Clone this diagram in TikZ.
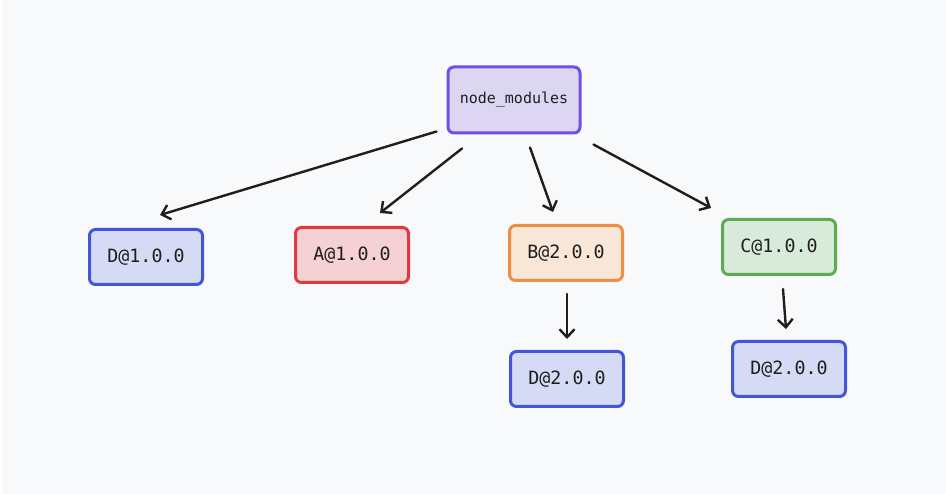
\documentclass[tikz,border=0pt]{standalone}
\usepackage{fontspec}
\setmonofont{DejaVu Sans Mono}
\usetikzlibrary{arrows.meta,calc}
\definecolor{bg}{HTML}{F8F9FA}
\definecolor{ink}{HTML}{1E1E1E}
\definecolor{vioF}{HTML}{DDD6F3}\definecolor{vioD}{HTML}{6E4FE8}
\definecolor{bluF}{HTML}{D5DBF4}\definecolor{bluD}{HTML}{4456D8}
\definecolor{redF}{HTML}{F5D0D4}\definecolor{redD}{HTML}{E0393E}
\definecolor{oraF}{HTML}{F8E6D6}\definecolor{oraD}{HTML}{EE8E45}
\definecolor{griF}{HTML}{D8EAD9}\definecolor{griD}{HTML}{5BAD50}
\tikzset{
  pkg/.style={draw, line width=3pt, rounded corners=6pt, minimum width=113pt, minimum height=55pt, inner sep=0pt, text=ink, font=\ttfamily\fontsize{18.3}{20}\selectfont},
  root/.style={pkg, minimum width=132pt, minimum height=66pt, font=\ttfamily\fontsize{15}{17}\selectfont},
  arr/.style={draw=ink, line width=2.4pt, line cap=round, -{Straight Barb[length=8pt,width=15pt,line width=2.4pt]}}
}
\begin{document}
\begin{tikzpicture}[x=1pt,y=-1pt]
\fill[white] (0,0) rectangle (946,494);
\fill[bg] (2,0) rectangle (946,494);
\useasboundingbox (0,0) rectangle (946,494);
\node[root, fill=vioF, draw=vioD] (nm) at (514,100) {node\_modules};
\node[pkg, fill=bluF, draw=bluD] (d1) at (146,257) {D@1.0.0};
\node[pkg, fill=redF, draw=redD] (a1) at (352,255) {A@1.0.0};
\node[pkg, fill=oraF, draw=oraD] (b2) at (566,253) {B@2.0.0};
\node[pkg, fill=griF, draw=griD] (c1) at (779,247) {C@1.0.0};
\node[pkg, fill=bluF, draw=bluD] (db) at (567,379) {D@2.0.0};
\node[pkg, fill=bluF, draw=bluD] (dc) at (789,369) {D@2.0.0};
\draw[arr] ($(nm.south west)+(-10,-3)$) -- ($(d1.north)+(14,-13)$);
\draw[arr] ($(nm.south)+(-52,14)$) -- ($(a1.north)+(28,-13)$);
\draw[arr] ($(nm.south)+(16,13)$) -- ($(b2.north)+(-13,-12)$);
\draw[arr] ($(nm.south east)+(12,10)$) -- ($(c1.north west)+(-10,-10)$);
\draw[arr] ($(b2.south)+(1,12)$) -- ($(db.north)+(0,-11)$);
\draw[arr] ($(c1.south)+(4,13)$) -- ($(dc.north)+(-3,-11)$);
\end{tikzpicture}
\end{document}
